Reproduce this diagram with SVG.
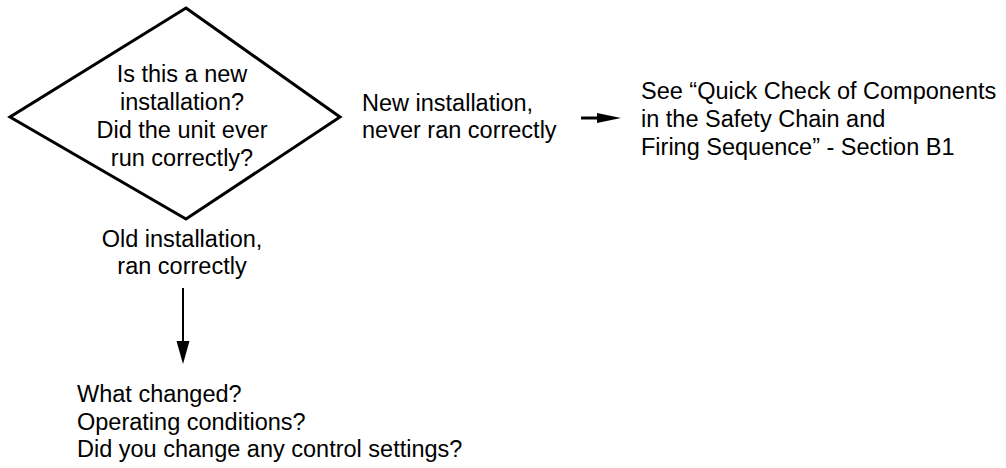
<svg xmlns="http://www.w3.org/2000/svg" width="1006" height="468" viewBox="0 0 1006 468">
<defs>
<style>
text{font-family:"Liberation Sans",Arial,Helvetica,sans-serif;font-size:23.5px;fill:#000}
.c{text-anchor:middle}
.shape{fill:#fff;stroke:#000;stroke-width:3;stroke-linejoin:miter}
.conn{stroke:#000;fill:none}
</style>
</defs>
<rect width="1006" height="468" fill="#fff"/>
<g id="decision">
<polygon class="shape" points="186,8 340,117 186,219 10,117"/>
<text class="c" x="182" y="82">Is this a new</text>
<text class="c" x="182" y="110">installation?</text>
<text class="c" x="182" y="138">Did the unit ever</text>
<text class="c" x="182" y="166">run correctly?</text>
</g>
<g id="label-new">
<text x="362" y="110.5">New installation,</text>
<text x="362" y="138">never ran correctly</text>
</g>
<g id="label-old">
<text class="c" x="182" y="247">Old installation,</text>
<text class="c" x="182" y="274">ran correctly</text>
</g>
<g id="node-see">
<text x="641" y="99">See “Quick Check of Components</text>
<text x="641" y="127">in the Safety Chain and</text>
<text x="641" y="155">Firing Sequence” - Section B1</text>
</g>
<g id="node-what">
<text x="77" y="402">What changed?</text>
<text x="77" y="430">Operating conditions?</text>
<text x="77" y="457">Did you change any control settings?</text>
</g>
<g id="connectors">
<line class="conn" x1="581" y1="118" x2="598" y2="118" stroke-width="3"/>
<path d="M597,113 L621,118 L597,123 Z" fill="#000"/>
<line class="conn" x1="183" y1="288" x2="183" y2="343" stroke-width="2"/>
<path d="M176.5,341 L183,364 L189.5,341 Z" fill="#000"/>
</g>
</svg>
